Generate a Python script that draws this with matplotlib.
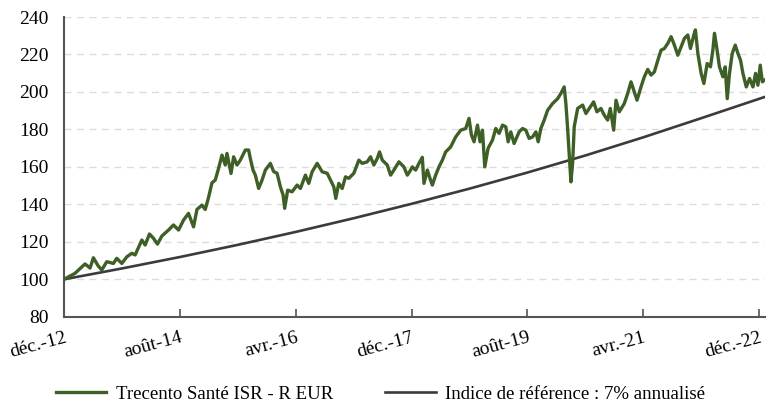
import matplotlib
matplotlib.use("Agg")
import matplotlib.pyplot as plt
import numpy as np

# months since déc.-12
fund_months = [0, 1.90, 3.63, 4.50, 5.07, 5.93, 6.52, 7.38, 8.53, 9.11, 9.98, 10.84, 11.71, 12.28,
               13.44, 14.01, 14.75, 15.44, 16.13, 16.89, 18.04, 18.90, 19.77, 20.63, 21.49, 22.36,
               22.95, 23.81, 24.38, 24.95, 25.54, 26.11, 26.68, 27.27, 27.84, 28.13, 28.83, 29.28,
               29.86, 30.43, 31.30, 31.87, 32.16, 32.63, 33.03, 33.60, 34.19, 34.76, 35.62, 36.19,
               36.78, 37.35, 37.82, 38.09, 38.61, 39.37, 40.24, 40.81, 41.67, 42.25, 42.83, 43.70,
               44.56, 45.43, 46.00, 46.57, 46.91, 47.43, 48.02, 48.59, 49.16, 50.03, 50.89, 51.48,
               52.34, 52.91, 53.48, 54.07, 54.47, 54.94, 55.80, 56.37, 56.94, 57.81, 58.67, 59.26,
               59.83, 60.12, 60.70, 61.27, 61.85, 62.13, 62.72, 63.17, 63.58, 64.15, 64.72, 65.31,
               65.88, 66.75, 67.61, 68.48, 69.34, 69.91, 70.33, 70.78, 71.37, 71.81, 72.23, 72.63,
               73.20, 73.96, 74.53, 75.10, 75.69, 76.26, 76.66, 77.12, 77.69, 78.56, 79.15, 79.72,
               80.29, 80.88, 81.45, 81.85, 82.31, 82.88, 83.47, 84.33, 85.20, 85.77, 86.34, 86.63,
               86.93, 87.20, 87.50, 87.79, 88.07, 88.66, 89.52, 90.09, 90.66, 91.42, 91.99, 92.68,
               93.26, 93.84, 94.29, 94.88, 95.28, 95.85, 96.71, 97.30, 97.87, 98.34, 98.91, 99.60,
               100.17, 100.76, 101.33, 101.90, 102.60, 103.06, 103.63, 104.22, 104.79, 105.36,
               105.95, 106.52, 107.09, 107.68, 108.13, 108.72, 108.99, 109.41, 109.98, 110.45,
               111.02, 111.59, 112.00, 112.28, 112.69, 113.14, 113.73, 114.13, 114.48, 114.87,
               115.34, 115.86, 116.33, 116.78, 117.19, 117.77, 118.34, 118.92, 119.37, 119.78,
               120.18, 120.53, 120.92]
fund_values = [100, 103.2, 108.2, 106, 111.5, 107, 105, 109.4, 108.5, 111.2, 108.5, 112, 113.9, 113,
               121, 118.3, 124.2, 121.9, 118.8, 123.1, 126.3, 129, 126.3, 131.6, 135.2, 128,
               137.3, 139.6, 137.3, 143.7, 151.5, 153, 159.2, 166.3, 161, 167.2, 156.5, 165.4,
               161, 163.6, 169, 169, 164.5, 158.3, 155.6, 148.5, 153, 158.3, 161.9, 157.5,
               156.6, 149.4, 145, 137.9, 147.6, 146.7, 150.3, 148.5, 155.6, 151.2, 157.4, 161.9,
               157.4, 156.6, 153, 149.4, 143.2, 151.2, 148.5, 154.7, 153.9, 156.6, 163.6, 161.9,
               162.7, 165.4, 161, 164.5, 168, 163.6, 161, 155.6, 158.3, 162.7, 160, 155.6,
               158.3, 160, 158.3, 161.9, 165.1, 151.2, 158.3, 153.9, 150.3, 155.6, 160, 163.6,
               168, 170.7, 176, 179.6, 180.5, 185.9, 177, 173.4, 182.3, 173.4, 179.6, 160,
               169.9, 174.3, 180.5, 177.9, 182.3, 181.4, 173.4, 178.7, 172.5, 178.7, 180.5, 179.6,
               175.2, 176, 178.7, 173.4, 180.5, 184.9, 190.2, 193.8, 196.4, 199.2, 202.7, 193.8,
               180.5, 167.2, 152, 161.9, 181.4, 191.2, 193, 188.5, 191.2, 194.7, 189.4, 191.2,
               187.6, 185, 191.2, 179.6, 195.6, 189.4, 193.8, 199.2, 205.4, 201, 195.6, 202.7,
               208.1, 212, 209, 210.7, 217.9, 222.3, 223.2, 225.9, 229.5, 225,
               219.6, 224.1, 228.6, 230.4, 223.2, 230.4, 233.1, 220.5, 209.9, 204.5,
               215.2, 213.4, 222.3, 231.3, 223.2, 213.4, 208.1, 213.4, 196.4, 209.9,
               220.5, 225, 220.5, 216.9, 209.9, 202.7, 207.2, 202.7, 209.9, 203.6,
               214.3, 205.4, 206.3]

bench_months = [0, 10, 20, 30, 40, 50, 60, 70, 80, 90, 100, 110, 120.92]
bench_values = [100, 105.8, 111.9, 118.4, 125.3, 132.6, 140.3, 148.4, 157.0, 166.1, 175.8, 186.0, 197.3]

tick_pos = [0, 20, 40, 60, 80, 100, 120]
tick_labels = ['déc.-12', 'août-14', 'avr.-16', 'déc.-17', 'août-19', 'avr.-21', 'déc.-22']

plt.rcParams['font.family'] = ['Liberation Serif', 'DejaVu Serif']

fig = plt.figure(figsize=(7.71, 4.03), dpi=100)
ax = fig.add_axes([64/771, 1 - 316.8/403, 701/771, (316.8 - 17)/403])

green = '#3e5f26'
dark = '#3b3a3c'
ax.plot(bench_months, bench_values, color=dark, lw=1.9, label='Indice de référence : 7% annualisé', zorder=3)
ax.plot(fund_months, fund_values, color=green, lw=2.4, label='Trecento Santé ISR - R EUR', zorder=4)

ax.set_xlim(0, 121)
ax.set_ylim(80, 240)
ax.set_yticks(range(80, 241, 20))
ax.set_xticks(tick_pos)
ax.set_xticklabels(tick_labels, rotation=15, fontsize=14, ha='right', rotation_mode='anchor')
ax.tick_params(axis='y', length=0, labelsize=14, pad=11)
ax.tick_params(axis='x', direction='in', length=6, width=1.2, color='#555555', pad=9)

for v in range(100, 241, 20):
    ax.axhline(v, color='#dcdcdc', lw=1, ls=(0, (5, 4)), zorder=1)

for s in ['top', 'right']:
    ax.spines[s].set_visible(False)
for s in ['left', 'bottom']:
    ax.spines[s].set_color('#555555')
    ax.spines[s].set_linewidth(1.5)

h, l = ax.get_legend_handles_labels()
fig.legend([h[1], h[0]], [l[1], l[0]], loc='center', bbox_to_anchor=(380.5/771, 1 - 394/403), ncol=2,
           frameon=False, fontsize=13.5, handlelength=2.7, columnspacing=2.8, handletextpad=0.5)

fig.savefig('out.png', dpi=100)
